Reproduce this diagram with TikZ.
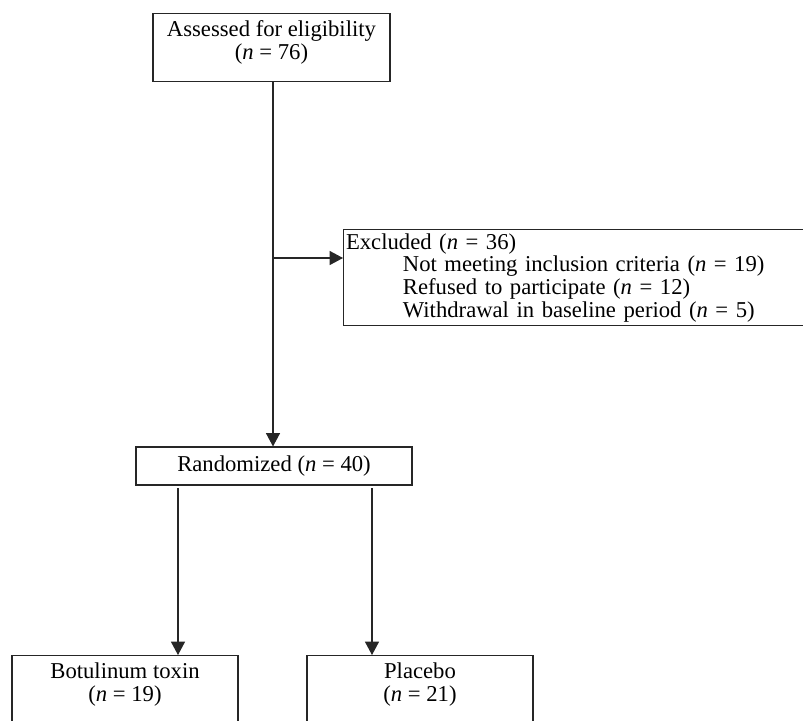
\documentclass[tikz,border=0pt]{standalone}
\usepackage{fontspec}
\setmainfont{Liberation Serif}
\usetikzlibrary{arrows.meta}
\def\px{0.45pt}
\begin{document}
\begin{tikzpicture}[x=0.45pt, y=-0.45pt,
    box/.style={draw=black!85, line width=0.5pt, inner sep=0pt, align=center,
      font=\fontsize{10.2}{10.2}\selectfont},
    arr/.style={draw=black!85, line width=0.5pt, -{Triangle[length=6pt, width=6.3pt]}}]

    % 画布范围
    \clip (0,0) rectangle (803,720);

    % 画方框
    \node[box, anchor=north, minimum width=237*\px, inner ysep=3.2pt, text depth=6.7pt] (assess) at (271.5,13)
      {Assessed for eligibility\\(\textit{n} = 76)};
    \node[box, anchor=north west, minimum width=465*\px, minimum height=96*\px,
      inner xsep=1*\px, text width=460*\px, align=left] (excl) at (343,229)
      {Excluded (\textit{n} = 36)\\
       \hspace*{25.6pt}Not meeting inclusion criteria (\textit{n} = 19)\\
       \hspace*{25.6pt}Refused to participate (\textit{n} = 12)\\
       \hspace*{25.6pt}Withdrawal in baseline period (\textit{n} = 5)};
    \node[box, minimum width=276*\px, minimum height=38*\px] (rand) at (274,466)
      {Randomized (\textit{n} = 40)};
    \node[box, anchor=north, minimum width=226*\px, inner ysep=3.2pt, text depth=30pt] (botox) at (125,655)
      {Botulinum toxin\\(\textit{n} = 19)};
    \node[box, anchor=north, minimum width=226*\px, inner ysep=3.2pt, text depth=30pt] (placebo) at (420,655)
      {Placebo\\(\textit{n} = 21)};

    % 画箭头
    \coordinate (split) at (273,258);
    \coordinate (armL) at (178,488);
    \coordinate (armR) at (372,488);
    \draw[arr] (assess.south -| split) -- (split |- rand.north);
    \draw[arr] (split) -- (split -| excl.west);
    \draw[arr] (armL) -- (armL |- botox.north);
    \draw[arr] (armR) -- (armR |- placebo.north);

  \end{tikzpicture}
\end{document}
